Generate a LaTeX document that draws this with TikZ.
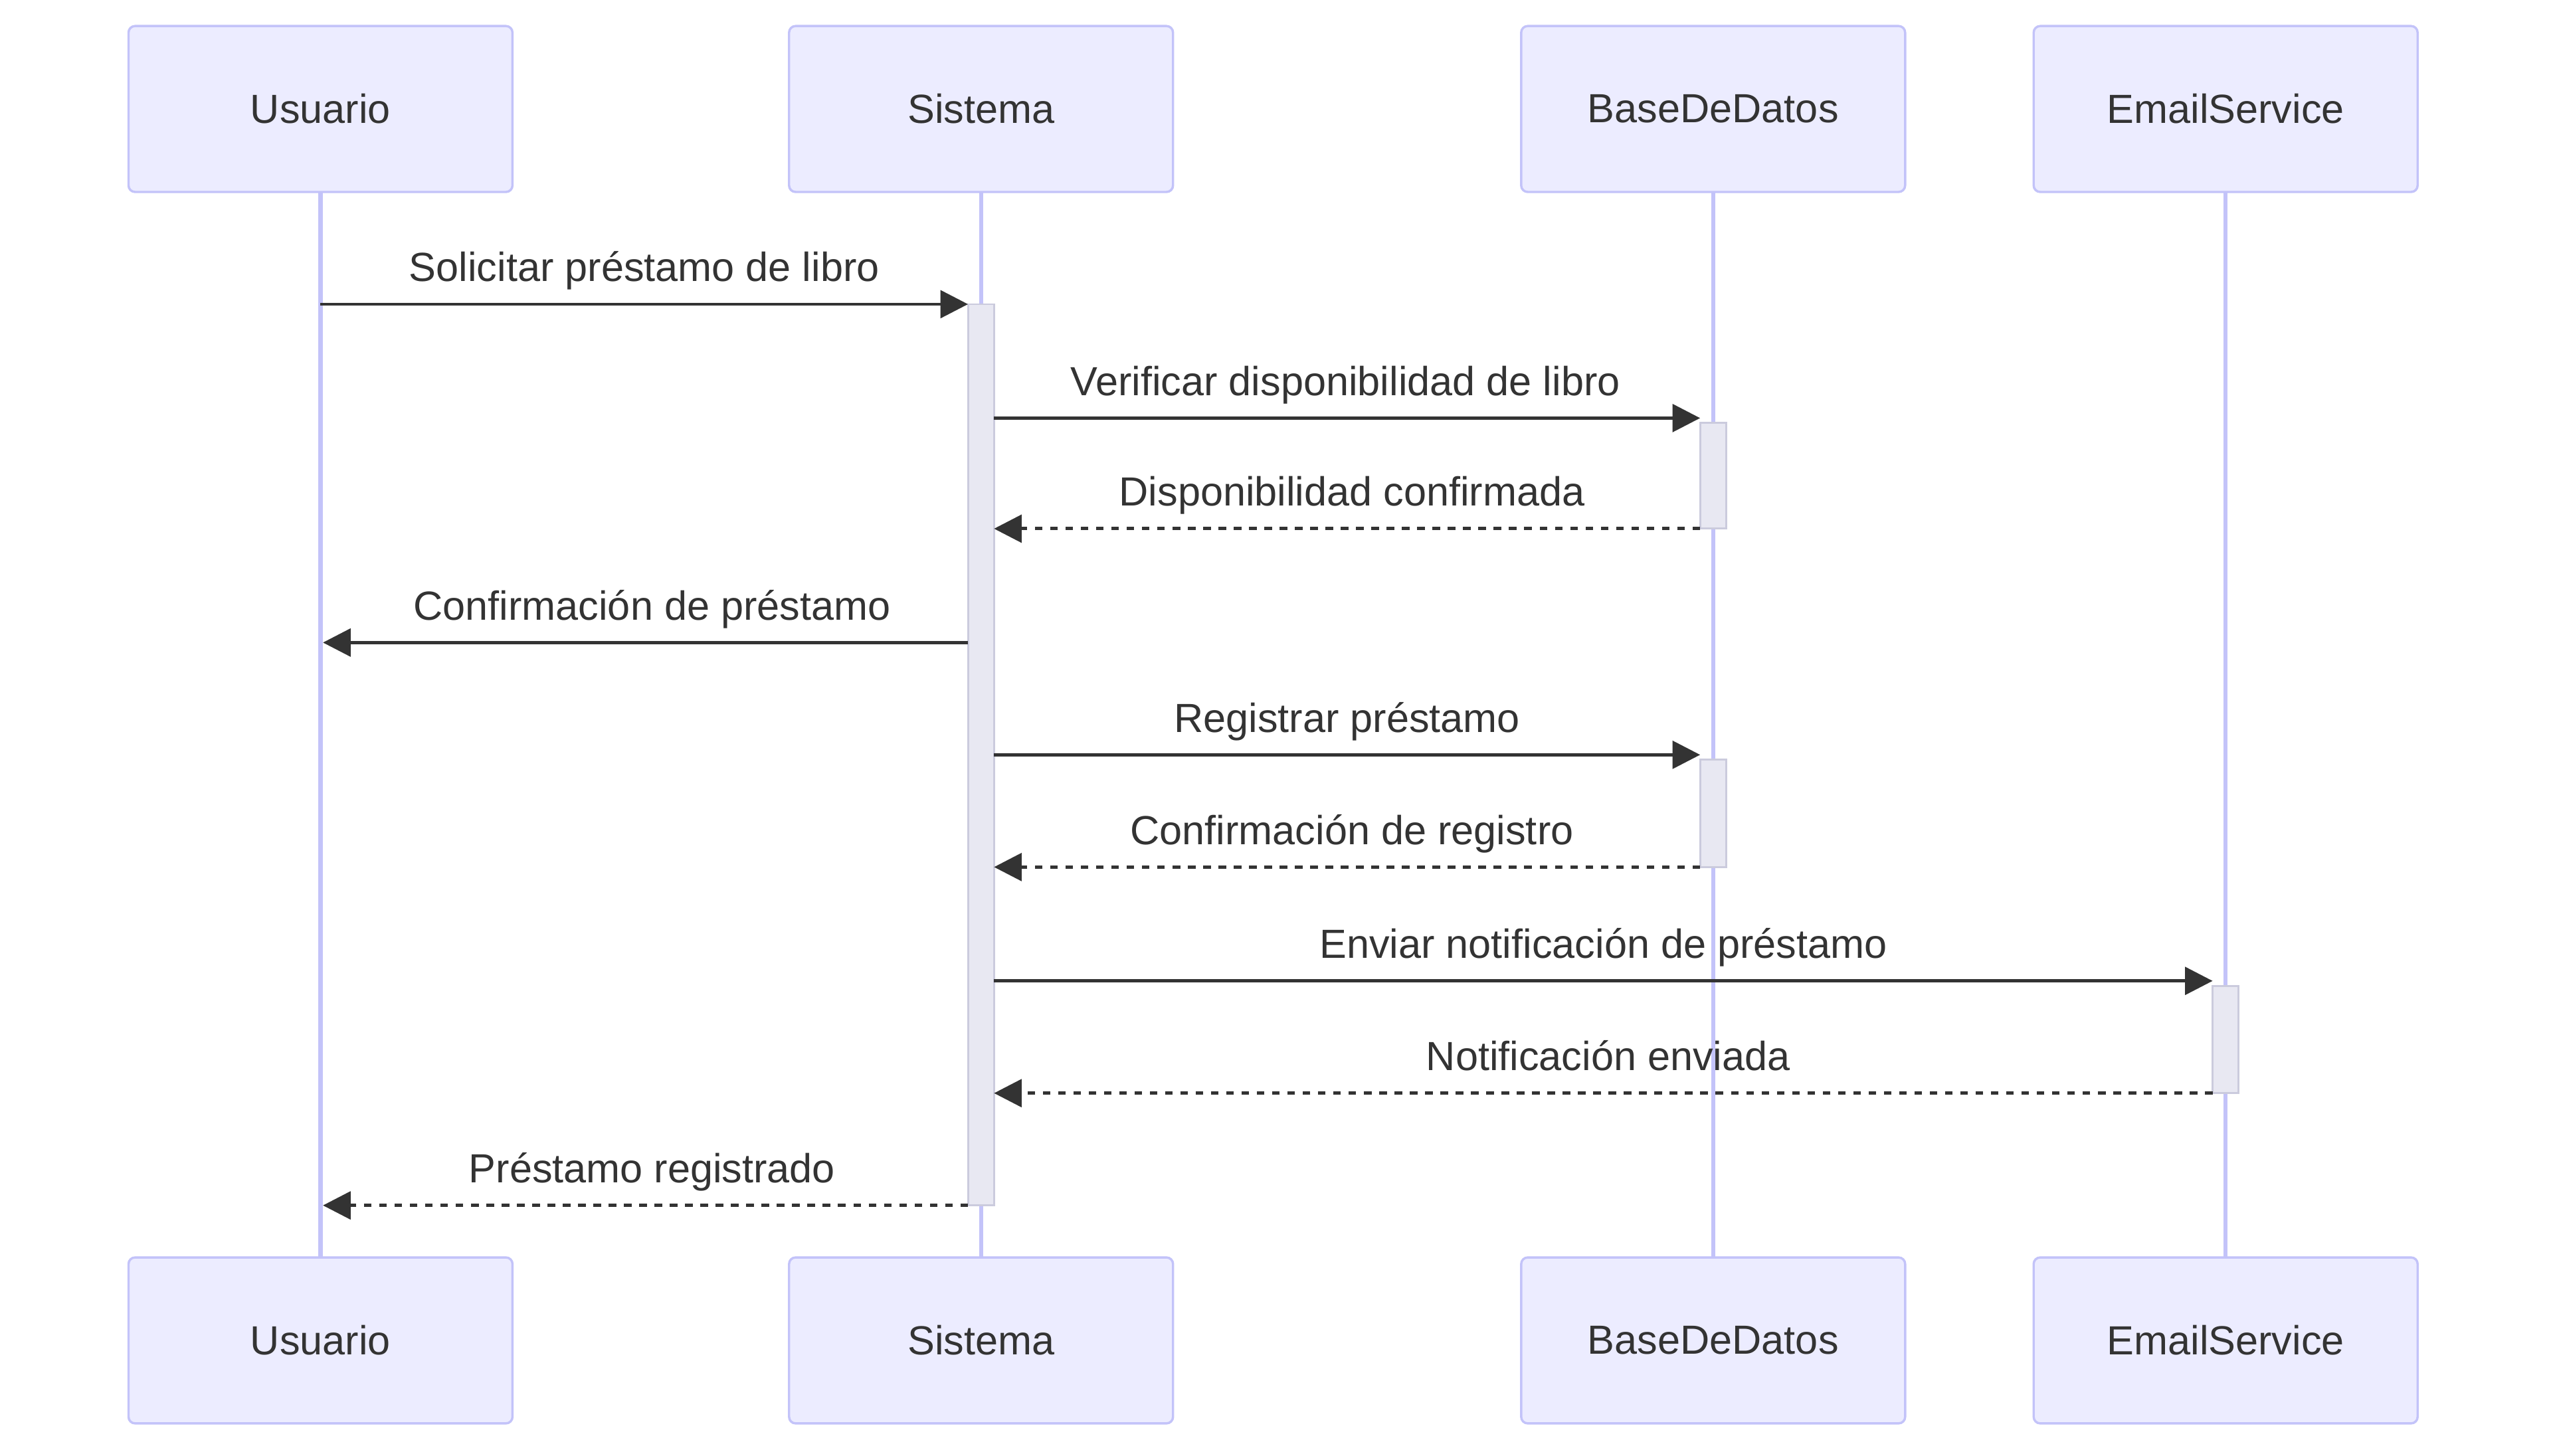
\documentclass[tikz,border=0pt]{standalone}
\usepackage{fontspec}
\setmainfont{Liberation Sans}
\usetikzlibrary{arrows.meta,positioning}

\definecolor{actorfill}{HTML}{ECECFF}
\definecolor{actorline}{HTML}{C3C3F9}
\definecolor{barfill}{HTML}{E8E8F2}
\definecolor{barline}{HTML}{CBCBDD}
\definecolor{inkgray}{HTML}{333333}

\begin{document}
\begin{tikzpicture}
  %% setup
  [
    x=0.5pt, y=-0.5pt,
    actorbox/.style={rectangle, rounded corners=2pt, draw=actorline, fill=actorfill, line width=0.7pt, minimum width=118pt, minimum height=51pt, inner sep=0pt, outer sep=0pt, text=inkgray, font=\fontsize{12.5}{15}\selectfont},
    actbar/.style={rectangle, draw=barline, fill=barfill, line width=0.6pt, minimum width=8pt, inner sep=0pt, outer sep=0pt},
    lifeline/.style={draw=actorline, line width=1.3pt},
    msg/.style={draw=inkgray, line width=1pt, -{Triangle[length=8.5pt, width=8.5pt]}},
    reply/.style={msg, dash pattern=on 2.35pt off 2.35pt},
    msglabel/.style={anchor=base, yshift=7pt, inner sep=0pt, text=inkgray, font=\fontsize{12.5}{15}\selectfont},
  ]

  \useasboundingbox[fill=white] (0,0) rectangle (1568,895);

  %% Actors
  \node [actorbox] (topU) at (197,67) {Usuario};
  \node [actorbox] (topS) [right=85pt of topU] {Sistema};
  \node [actorbox] (topB) [right=107pt of topS] {BaseDeDatos};
  \node [actorbox] (topE) [right=39.5pt of topB] {EmailService};

  \node [actorbox] (botU) [below=327.5pt of topU] {Usuario};
  \node [actorbox] (botS) [below=327.5pt of topS] {Sistema};
  \node [actorbox] (botB) [below=327.5pt of topB] {BaseDeDatos};
  \node [actorbox] (botE) [below=327.5pt of topE] {EmailService};

  %% Lifelines
  \draw [lifeline] (topU.south) -- (botU.north);
  \draw [lifeline] (topS.south) -- (botS.north);
  \draw [lifeline] (topB.south) -- (botB.north);
  \draw [lifeline] (topE.south) -- (botE.north);

  %% Activations
  \node [actbar, minimum height=277pt] (actSis) at (603,464) {};
  \node [actbar, minimum height=32.5pt] (actDb1) at (1053,292.5) {};
  \node [actbar, minimum height=33pt] (actDb2) at (1053,500) {};
  \node [actbar, minimum height=33pt] (actEm) at (1368,639) {};

  %% Message rows
  \coordinate (r1) at (0,187);
  \coordinate (r2) at (0,257);
  \coordinate (r3) at (0,325);
  \coordinate (r4) at (0,395);
  \coordinate (r5) at (0,464);
  \coordinate (r6) at (0,533);
  \coordinate (r7) at (0,603);
  \coordinate (r8) at (0,672);
  \coordinate (r9) at (0,741);

  %% Messages
  \draw [msg] (topU.south |- r1) -- node [msglabel] {Solicitar préstamo de libro} (actSis.west |- r1);
  \draw [msg] (actSis.east |- r2) -- node [msglabel, xshift=-0.5pt] {Verificar disponibilidad de libro} (actDb1.west |- r2);
  \draw [reply] (actDb1.west |- r3) -- node [msglabel, xshift=1.5pt] {Disponibilidad confirmada} (actSis.east |- r3);
  \draw [msg] (actSis.west |- r4) -- node [msglabel, xshift=2pt] {Confirmación de préstamo} ([xshift=0.75pt]topU.south |- r4);
  \draw [msg] (actSis.east |- r5) -- node [msglabel] {Registrar préstamo} (actDb2.west |- r5);
  \draw [reply] (actDb2.west |- r6) -- node [msglabel, xshift=1.5pt] {Confirmación de registro} (actSis.east |- r6);
  \draw [msg] (actSis.east |- r7) -- node [msglabel] {Enviar notificación de préstamo} (actEm.west |- r7);
  \draw [reply] (actEm.west |- r8) -- node [msglabel, xshift=1.5pt] {Notificación enviada} (actSis.east |- r8);
  \draw [reply] (actSis.west |- r9) -- node [msglabel, xshift=2pt] {Préstamo registrado} ([xshift=0.75pt]topU.south |- r9);

\end{tikzpicture}
\end{document}
